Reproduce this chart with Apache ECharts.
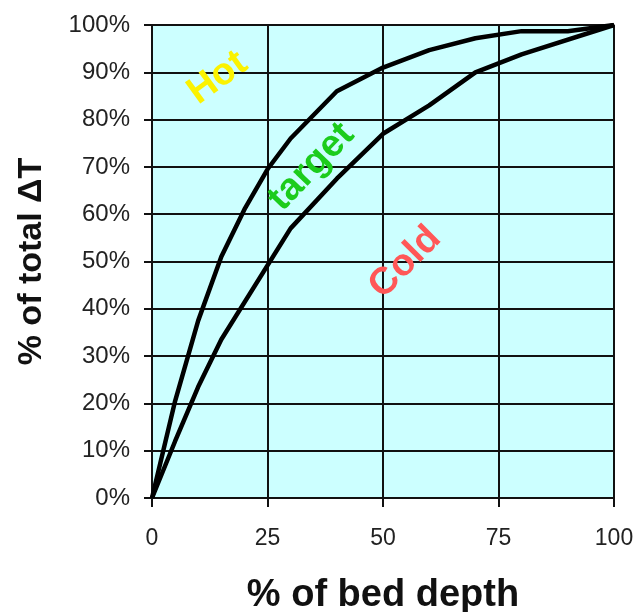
<!DOCTYPE html>
<html><head><meta charset="utf-8">
<script src="https://cdn.jsdelivr.net/npm/echarts@6/dist/echarts.min.js"></script>
<style>html,body{margin:0;padding:0;background:#fff}#c{width:638px;height:612px}</style>
</head><body><div id="c"></div>
<script>
// Data
const hotX = [0, 5, 10, 15, 20, 25, 30, 40, 50, 60, 70, 80, 90, 100];
const hotY = [0, 20.5, 37.5, 51, 61, 69.5, 76, 86, 91, 94.7, 97.2, 98.7, 98.7, 100];
const coldX = [0, 5, 10, 15, 30, 40, 50, 60, 70, 80, 100];
const coldY = [0, 12, 23.5, 33.5, 57, 67.5, 77, 83, 90, 93.8, 100];
const xTicks = [0, 25, 50, 75, 100];
const yTicks = [0, 10, 20, 30, 40, 50, 60, 70, 80, 90, 100];
const xTitle = '% of bed depth';
const yTitle = '% of total \u0394T';
// region labels: [text, x, y, angle, color]
const zoneLabels = [
  ['Hot', 14.2, 88.8, 36, '#fbf200'],
  ['target', 34.5, 70, 46, '#1ccc1c'],
  ['Cold', 54.8, 49.8, 45, '#ff5757']
];

const chart = echarts.init(document.getElementById('c'), null, {renderer: 'canvas'});
const font = 'Liberation Sans, Arial, sans-serif';
const gridLine = {show: true, lineStyle: {color: '#111', width: 2}};
chart.setOption({
  animation: false,
  backgroundColor: '#fff',
  grid: {left: 152, right: 24, top: 25, bottom: 114, show: true, backgroundColor: '#ccffff',
    borderColor: '#555', borderWidth: 1.5, containLabel: false, outerBoundsMode: 'none'},
  xAxis: {
    type: 'value', min: 0, max: 100, interval: 25,
    name: xTitle, nameLocation: 'middle', nameGap: 79,
    nameTextStyle: {fontFamily: font, fontWeight: 'bold', fontSize: 38, color: '#111'},
    axisLine: {show: true, lineStyle: {color: '#111', width: 2}},
    axisTick: {show: true, length: 9, lineStyle: {color: '#111', width: 2}},
    axisLabel: {fontFamily: font, fontSize: 23, color: '#222', margin: 29,
      formatter: v => xTicks.includes(v) ? String(v) : ''},
    splitLine: gridLine
  },
  yAxis: {
    type: 'value', min: 0, max: 100, interval: 10,
    name: yTitle, nameLocation: 'middle', nameGap: 103, nameRotate: 90,
    nameTextStyle: {fontFamily: font, fontWeight: 'bold', fontSize: 34, color: '#111'},
    axisLine: {show: true, lineStyle: {color: '#111', width: 2}},
    axisTick: {show: true, length: 8, lineStyle: {color: '#111', width: 2}},
    axisLabel: {fontFamily: font, fontSize: 24, color: '#222', margin: 22,
      formatter: v => yTicks.includes(v) ? v + '%' : ''},
    splitLine: gridLine
  },
  series: [
    {name: 'upper', type: 'line', data: hotX.map((x, i) => [x, hotY[i]]), symbol: 'none', smooth: false,
      lineStyle: {color: '#000', width: 4.5}, z: 5},
    {name: 'lower', type: 'line', data: coldX.map((x, i) => [x, coldY[i]]), symbol: 'none', smooth: false,
      lineStyle: {color: '#000', width: 4.5}, z: 5}
  ]
});

// Rotated zone labels placed through the chart's own coordinate conversion
const g = zoneLabels.map(([t, x, y, ang, col]) => {
  const p = chart.convertToPixel({gridIndex: 0}, [x, y]);
  return {
    type: 'text', x: p[0], y: p[1], rotation: ang * Math.PI / 180, z: 10,
    style: {text: t, fill: col, font: 'bold 38px ' + font, align: 'center', verticalAlign: 'middle',
      shadowColor: 'rgba(0,0,0,0.35)', shadowBlur: 3, shadowOffsetX: 2, shadowOffsetY: 2}
  };
});
chart.setOption({graphic: g});
</script></body></html>
